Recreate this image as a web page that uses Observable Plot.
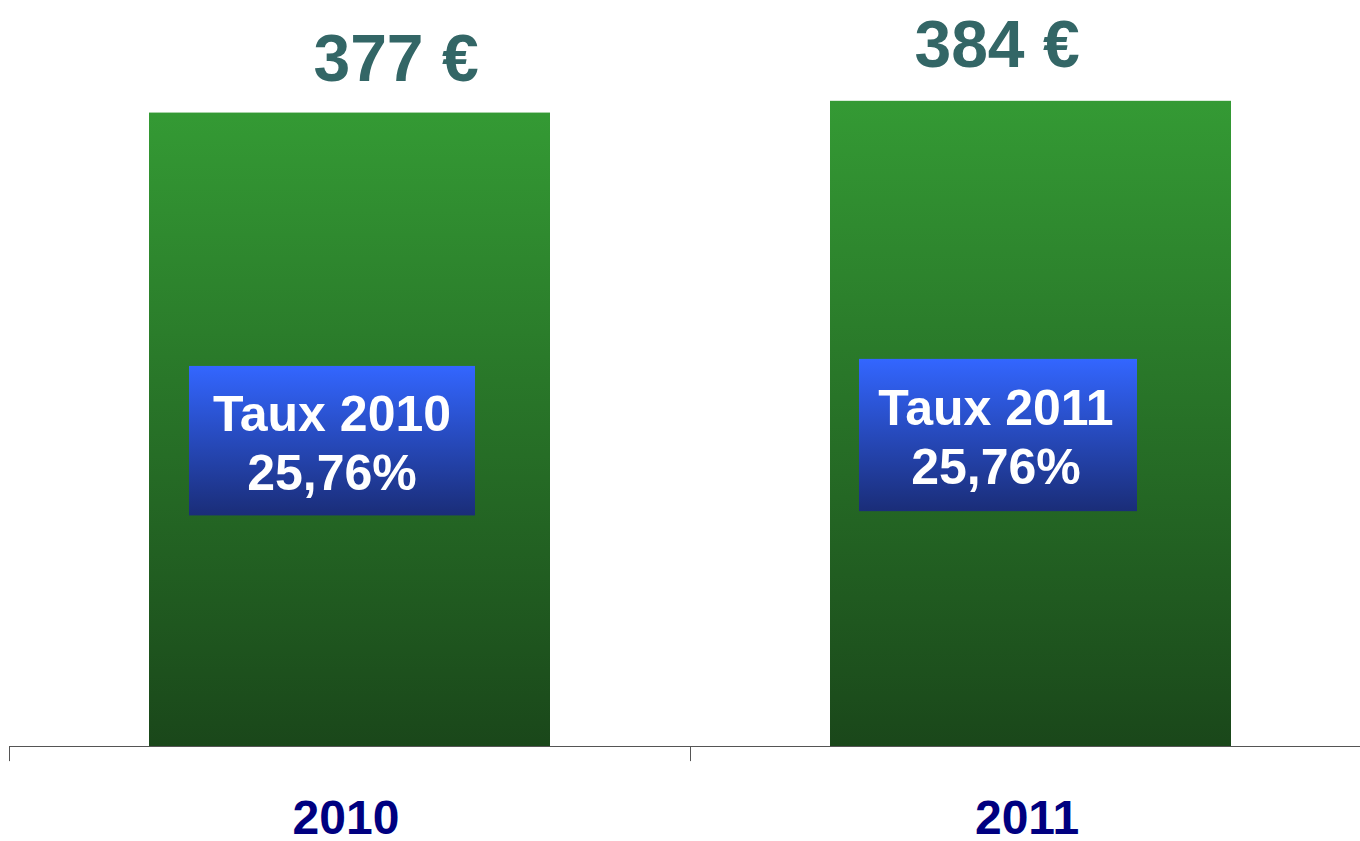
<!DOCTYPE html>
<html><head><meta charset="utf-8">
<script src="https://cdn.jsdelivr.net/npm/d3@7"></script>
<script src="https://cdn.jsdelivr.net/npm/@observablehq/plot@0.6"></script>
<style>body{margin:0;background:#fff}</style>
</head><body><div id="chart"></div>
<script>
const years = ["2010", "2011"];
const amounts = [377, 384];
const rateTitles = ["Taux 2010", "Taux 2011"];
const rates = ["25,76%", "25,76%"];

const data = years.map((year, i) => ({
  year,
  amount: amounts[i],
  valueLabel: `${amounts[i]} €`,
  rateLabel: `${rateTitles[i]}\n${rates[i]}`
}));
const d2010 = data.filter(d => d.year === "2010");
const d2011 = data.filter(d => d.year === "2011");

const FONT = "'Liberation Sans', Arial, Helvetica, sans-serif";

const defs = () => {
  const g = d3.create("svg:defs");
  const gg = g.append("linearGradient").attr("id", "gGreen").attr("x1", 0).attr("y1", 0).attr("x2", 0).attr("y2", 1);
  gg.append("stop").attr("offset", "0%").attr("stop-color", "#349a34");
  gg.append("stop").attr("offset", "100%").attr("stop-color", "#1a471a");
  const gb = g.append("linearGradient").attr("id", "gBlue").attr("x1", 0).attr("y1", 0).attr("x2", 0).attr("y2", 1);
  gb.append("stop").attr("offset", "0%").attr("stop-color", "#3366ff");
  gb.append("stop").attr("offset", "100%").attr("stop-color", "#1a2d78");
  return g.node();
};

const boxMark = (rows, insetLeft, insetRight) => Plot.barY(rows, {
  x: "year", y1: d => d.amount * 0.364, y2: d => d.amount * 0.6,
  fill: "url(#gBlue)", insetLeft, insetRight
});
const rateText = (rows, dx) => Plot.text(rows, {
  x: "year", y: d => d.amount * 0.482, text: "rateLabel", dx,
  fill: "white", fontSize: 50, fontWeight: "bold", lineHeight: 1.18, lineAnchor: "middle"
});
const valueText = (rows, dx, dy) => Plot.text(rows, {
  x: "year", y: "amount", text: "valueLabel", dx, dy,
  fill: "#336666", fontSize: 66, fontWeight: "bold", lineAnchor: "bottom"
});

const chart = Plot.plot({
  width: 1360,
  height: 841,
  marginTop: 0,
  marginBottom: 95,
  marginLeft: 9,
  marginRight: 0,
  style: {fontFamily: FONT, background: "white", overflow: "visible"},
  x: {domain: years, range: [9, 1371], padding: 0, axis: null},
  y: {domain: [0, 444], range: [746, 0], axis: null},
  marks: [
    defs,
    Plot.barY(data, {x: "year", y: "amount", fill: "url(#gGreen)", insetLeft: 140, insetRight: 140}),
    boxMark(d2010, 180, 215),
    boxMark(d2011, 169, 234),
    rateText(d2010, -18),
    rateText(d2011, -35),
    valueText(d2010, 46, -32),
    valueText(d2011, -34, -34),
    Plot.ruleY([0], {stroke: "#555", strokeWidth: 1}),
    Plot.ruleX(data, {x: "year", y1: 0, y2: -9, dx: -340.5, stroke: "#555"}),
    Plot.text(data, {
      x: "year", text: "year", frameAnchor: "bottom", lineAnchor: "bottom", dy: 87, dx: -4,
      fill: "#000080", fontSize: 48, fontWeight: "bold"
    })
  ]
});
document.getElementById("chart").appendChild(chart);
</script>
</body></html>
